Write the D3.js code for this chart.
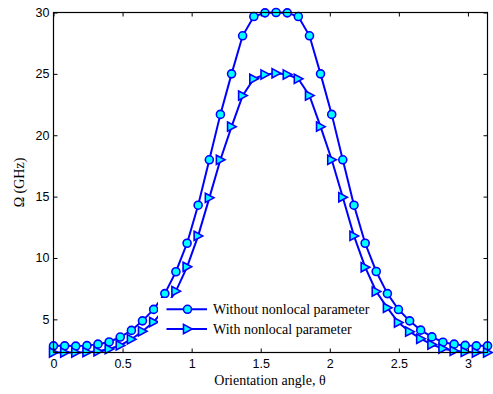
<!DOCTYPE html>
<html><head><meta charset="utf-8">
<script src="https://cdn.jsdelivr.net/npm/d3@7/dist/d3.min.js"></script>
<style>body{margin:0;background:#fff}svg{display:block}
.serif{font-family:"Liberation Serif","Times New Roman","DejaVu Serif",serif}
.sans{font-family:"Liberation Sans",Arial,sans-serif}</style>
</head><body>
<svg id="c" width="493" height="394"></svg>
<script>
// Orientation angle (rad), 40 samples over [0, pi]
const theta = [0.000,0.081,0.161,0.242,0.322,0.403,0.483,0.564,0.644,0.725,
  0.806,0.886,0.967,1.047,1.128,1.208,1.289,1.369,1.450,1.531,
  1.611,1.692,1.772,1.853,1.933,2.014,2.094,2.175,2.256,2.336,
  2.417,2.497,2.578,2.658,2.739,2.819,2.900,2.980,3.061,3.142];
const withoutNonlocal = [2.84,2.84,2.82,2.86,2.98,3.16,3.56,4.10,4.88,5.81,
  7.10,8.88,11.2,14.3,18.0,21.7,25.0,28.1,29.67,29.97,
  30.0,29.97,29.67,28.1,25.0,21.7,18.0,14.3,11.2,8.90,
  7.10,5.80,4.88,4.12,3.57,3.14,2.98,2.88,2.84,2.84];
const withNonlocal = [2.30,2.30,2.30,2.33,2.40,2.58,2.88,3.38,4.03,4.78,
  5.92,7.30,9.28,11.8,14.9,18.0,20.7,23.23,24.6,24.95,
  25.05,24.95,24.6,23.23,20.7,18.0,14.95,11.8,9.25,7.27,
  5.94,4.74,4.00,3.42,2.95,2.62,2.43,2.35,2.30,2.30];
const xTicks = [0,0.5,1,1.5,2,2.5,3];
const yTicks = [5,10,15,20,25,30];
const seriesNames = ["Without nonlocal parameter","With nonlocal parameter"];

const svg = d3.select("#c");
const L=53.5, R=487.5, T=12.5, B=352.5;
const x = d3.scaleLinear().domain([0, Math.PI]).range([L, R]);
const y = d3.scaleLinear().domain([2.3, 30]).range([B, T]);
const blue="#0000ff", cyan="#00ffff";

const line = d3.line().x((d,i)=>x(theta[i])).y(d=>y(d));
const series = [withoutNonlocal, withNonlocal];
const gData = svg.append("g");
series.forEach((s,k)=>{
  gData.append("path").attr("d", line(s)).attr("fill","none")
    .attr("stroke",blue).attr("stroke-width",2);
});
const tri = "M-4,-4.6L4.6,0L-4,4.6Z";
function marker(g, k, cx, cy){
  if(k===0){
    g.append("circle").attr("cx",cx).attr("cy",cy).attr("r",4)
      .attr("fill",cyan).attr("stroke",blue).attr("stroke-width",1.6);
  } else {
    g.append("path").attr("d",tri).attr("transform",`translate(${cx},${cy})`)
      .attr("fill",cyan).attr("stroke",blue).attr("stroke-width",1.6).attr("stroke-linejoin","miter");
  }
}
series.forEach((s,k)=>{
  s.forEach((v,i)=>marker(gData,k,x(theta[i]),y(v)));
});

// axes box
svg.append("rect").attr("x",L).attr("y",T).attr("width",R-L).attr("height",B-T)
  .attr("fill","none").attr("stroke","#000").attr("stroke-width",1.2);

const xb = svg.append("g").attr("transform",`translate(0,${B})`)
  .call(d3.axisBottom(x).tickValues(xTicks).tickSizeInner(-4).tickSizeOuter(0).tickFormat(d3.format("")));
const xt = svg.append("g").attr("transform",`translate(0,${T})`)
  .call(d3.axisTop(x).tickValues(xTicks).tickSizeInner(-4).tickSizeOuter(0).tickFormat(""));
const yl = svg.append("g").attr("transform",`translate(${L},0)`)
  .call(d3.axisLeft(y).tickValues(yTicks).tickSizeInner(-4).tickSizeOuter(0));
const yr = svg.append("g").attr("transform",`translate(${R},0)`)
  .call(d3.axisRight(y).tickValues(yTicks).tickSizeInner(-4).tickSizeOuter(0).tickFormat(""));
[xb,xt,yl,yr].forEach(g=>{
  g.attr("font-family",null).attr("font-size",null);
  g.select(".domain").remove();
  g.selectAll(".tick line").attr("stroke","#000");
  g.selectAll(".tick text").attr("class","sans").style("font-size","12.5px").attr("fill","#000");
});
xb.selectAll(".tick text").attr("y",7).attr("dy","0.71em");
yl.selectAll(".tick text").attr("x",-4);

// labels
svg.append("text").attr("class","serif").attr("x",270).attr("y",385).attr("text-anchor","middle")
  .style("font-size","14px").text("Orientation angle, θ");
svg.append("text").attr("class","serif").attr("transform",`translate(24,${(T+B)/2}) rotate(-90)`).attr("text-anchor","middle")
  .style("font-size","14px").text("Ω (GHz)");

// legend
const lg = svg.append("g");
lg.append("rect").attr("x",158).attr("y",298).attr("width",214).attr("height",42).attr("fill","#fff");
seriesNames.forEach((n,k)=>{
  const yy = 309.3 + k*19.7;
  lg.append("line").attr("x1",166.5).attr("x2",207).attr("y1",yy).attr("y2",yy)
    .attr("stroke",blue).attr("stroke-width",2);
  marker(lg,k,187.5,yy);
  lg.append("text").attr("class","serif").attr("x",213).attr("y",yy).attr("dy","0.33em")
    .style("font-size","14px").text(n);
});
</script>
</body></html>
